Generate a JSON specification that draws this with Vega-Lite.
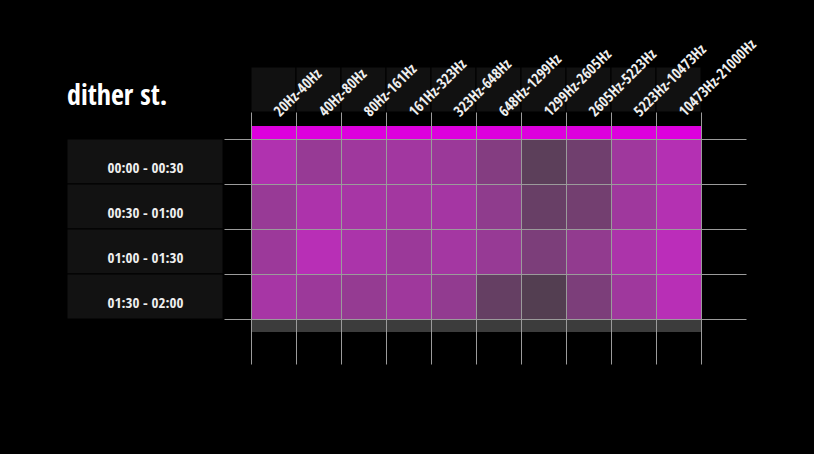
{
"$schema":"https://vega.github.io/schema/vega-lite/v6.json",
"width":495,"height":225,
"autosize":{"type":"none"},
"padding":{"left":251,"top":139,"right":68,"bottom":90},
"background":"black",
"title":{"text":"dither st.","anchor":"start","frame":"group","dx":-184,"offset":-97,"font":"Open Sans Condensed","fontWeight":"bold","fontSize":28,"color":"white","baseline":"alphabetic"},
"datasets":{
"bands":[{"band":"20Hz-40Hz"},{"band":"40Hz-80Hz"},{"band":"80Hz-161Hz"},{"band":"161Hz-323Hz"},{"band":"323Hz-648Hz"},{"band":"648Hz-1299Hz"},{"band":"1299Hz-2605Hz"},{"band":"2605Hz-5223Hz"},{"band":"5223Hz-10473Hz"},{"band":"10473Hz-21000Hz"}],
"slots":[{"slot":"00:00 - 00:30"},{"slot":"00:30 - 01:00"},{"slot":"01:00 - 01:30"},{"slot":"01:30 - 02:00"}],
"heat":[
{"slot":"00:00 - 00:30","band":"20Hz-40Hz","v":0.73},
{"slot":"00:00 - 00:30","band":"40Hz-80Hz","v":0.575},
{"slot":"00:00 - 00:30","band":"80Hz-161Hz","v":0.625},
{"slot":"00:00 - 00:30","band":"161Hz-323Hz","v":0.64},
{"slot":"00:00 - 00:30","band":"323Hz-648Hz","v":0.6},
{"slot":"00:00 - 00:30","band":"648Hz-1299Hz","v":0.455},
{"slot":"00:00 - 00:30","band":"1299Hz-2605Hz","v":0.2},
{"slot":"00:00 - 00:30","band":"2605Hz-5223Hz","v":0.33},
{"slot":"00:00 - 00:30","band":"5223Hz-10473Hz","v":0.625},
{"slot":"00:00 - 00:30","band":"10473Hz-21000Hz","v":0.755},
{"slot":"00:30 - 01:00","band":"20Hz-40Hz","v":0.58},
{"slot":"00:30 - 01:00","band":"40Hz-80Hz","v":0.71},
{"slot":"00:30 - 01:00","band":"80Hz-161Hz","v":0.675},
{"slot":"00:30 - 01:00","band":"161Hz-323Hz","v":0.645},
{"slot":"00:30 - 01:00","band":"323Hz-648Hz","v":0.66},
{"slot":"00:30 - 01:00","band":"648Hz-1299Hz","v":0.525},
{"slot":"00:30 - 01:00","band":"1299Hz-2605Hz","v":0.28},
{"slot":"00:30 - 01:00","band":"2605Hz-5223Hz","v":0.345},
{"slot":"00:30 - 01:00","band":"5223Hz-10473Hz","v":0.625},
{"slot":"00:30 - 01:00","band":"10473Hz-21000Hz","v":0.75},
{"slot":"01:00 - 01:30","band":"20Hz-40Hz","v":0.605},
{"slot":"01:00 - 01:30","band":"40Hz-80Hz","v":0.775},
{"slot":"01:00 - 01:30","band":"80Hz-161Hz","v":0.7},
{"slot":"01:00 - 01:30","band":"161Hz-323Hz","v":0.6},
{"slot":"01:00 - 01:30","band":"323Hz-648Hz","v":0.655},
{"slot":"01:00 - 01:30","band":"648Hz-1299Hz","v":0.575},
{"slot":"01:00 - 01:30","band":"1299Hz-2605Hz","v":0.405},
{"slot":"01:00 - 01:30","band":"2605Hz-5223Hz","v":0.54},
{"slot":"01:00 - 01:30","band":"5223Hz-10473Hz","v":0.705},
{"slot":"01:00 - 01:30","band":"10473Hz-21000Hz","v":0.795},
{"slot":"01:30 - 02:00","band":"20Hz-40Hz","v":0.67},
{"slot":"01:30 - 02:00","band":"40Hz-80Hz","v":0.605},
{"slot":"01:30 - 02:00","band":"80Hz-161Hz","v":0.56},
{"slot":"01:30 - 02:00","band":"161Hz-323Hz","v":0.62},
{"slot":"01:30 - 02:00","band":"323Hz-648Hz","v":0.545},
{"slot":"01:30 - 02:00","band":"648Hz-1299Hz","v":0.26},
{"slot":"01:30 - 02:00","band":"1299Hz-2605Hz","v":0.145},
{"slot":"01:30 - 02:00","band":"2605Hz-5223Hz","v":0.405},
{"slot":"01:30 - 02:00","band":"5223Hz-10473Hz","v":0.625},
{"slot":"01:30 - 02:00","band":"10473Hz-21000Hz","v":0.775}
]},
"config":{
"view":{"stroke":null},
"axis":{"domain":false,"grid":true,"gridColor":"#9b9b9b","gridWidth":1,"ticks":true,"tickColor":"#9b9b9b","tickWidth":1,"tickSize":27,"bandPosition":0,"title":null,"labelFont":"Open Sans Condensed","labelFontWeight":"bold","labelColor":"#eeeeee","labelOverlap":false,"labelBound":false,"labelFlush":false}
},
"layer":[
{"data":{"name":"bands"},
 "mark":{"type":"rect","fill":"#111111","stroke":"#000000","strokeWidth":1,"height":45,"yOffset":-72},
 "encoding":{"x":{"field":"band","type":"nominal","title":null},"y":{"datum":"00:00 - 00:30","type":"nominal"}}},
{"data":{"name":"bands"},
 "mark":{"type":"rect","fill":"#dd00dd","height":13,"yOffset":-29},
 "encoding":{"x":{"field":"band","type":"nominal","title":null},"y":{"datum":"00:00 - 00:30","type":"nominal"}}},
{"data":{"name":"bands"},
 "mark":{"type":"rect","fill":"#3c3c3c","height":13,"yOffset":-16},
 "encoding":{"x":{"field":"band","type":"nominal","title":null},"y":{"datum":"end","type":"nominal"}}},
{"data":{"name":"slots"},
 "mark":{"type":"rect","fill":"#121212","stroke":"#000000","strokeWidth":1,"width":156,"xOffset":-128.5},
 "encoding":{"x":{"datum":"20Hz-40Hz","type":"nominal"},"y":{"field":"slot","type":"nominal","title":null}}},
{"data":{"name":"heat"},
 "mark":{"type":"rect"},
 "encoding":{
  "x":{"field":"band","type":"nominal","title":null,
   "scale":{"domain":["20Hz-40Hz","40Hz-80Hz","80Hz-161Hz","161Hz-323Hz","323Hz-648Hz","648Hz-1299Hz","1299Hz-2605Hz","2605Hz-5223Hz","5223Hz-10473Hz","10473Hz-21000Hz","end"],"paddingInner":0,"paddingOuter":0},
   "axis":{"orient":"top","zindex":1,"labelAngle":-45,"labelAlign":"left","labelBaseline":"alphabetic","labelPadding":-5,"labelOffset":6.5,"labelFontSize":15,"labelExpr":"datum.value == 'end' ? '' : datum.label"}},
  "y":{"field":"slot","type":"nominal","title":null,
   "scale":{"domain":["00:00 - 00:30","00:30 - 01:00","01:00 - 01:30","01:30 - 02:00","end"],"paddingInner":0,"paddingOuter":0},
   "axis":{"orient":"left","zindex":1,"labelAngle":0,"labelAlign":"center","labelBaseline":"alphabetic","labelPadding":79,"labelOffset":11.5,"labelFontSize":15,"labelExpr":"datum.value == 'end' ? '' : datum.label"}},
  "color":{"field":"v","type":"quantitative","legend":null,"scale":{"domain":[0,1],"range":["#3c3c3c","#dd00dd"],"interpolate":"lab"}}
 }}
]
}
